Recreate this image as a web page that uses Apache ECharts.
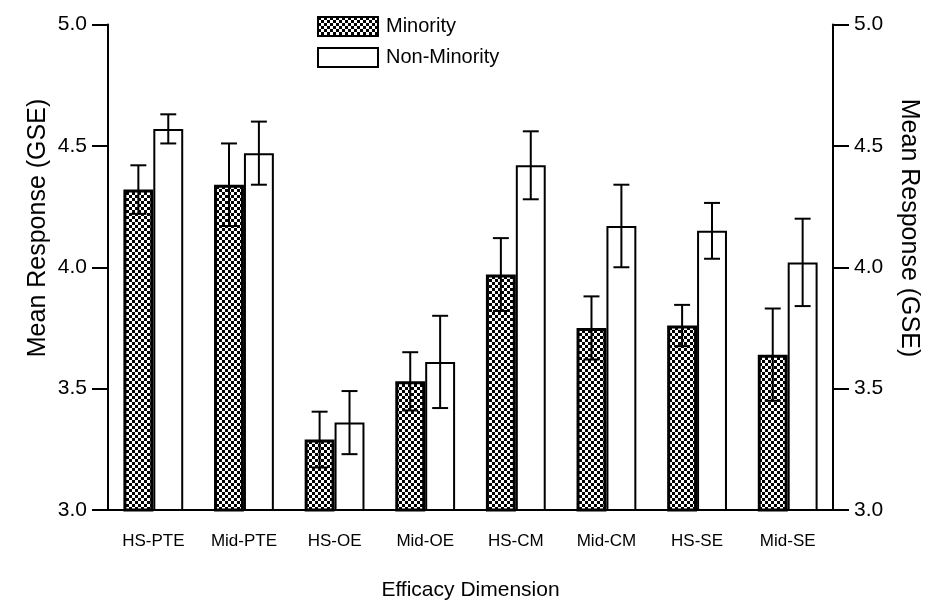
<!DOCTYPE html>
<html>
<head>
<meta charset="utf-8">
<title>Mean Response (GSE)</title>
<script src="https://cdn.jsdelivr.net/npm/echarts@6/dist/echarts.min.js"></script>
<style>
	html, body { margin: 0; padding: 0; background: #fff; }
	#container1 { width: 930px; height: 606px; }
</style>
</head>
<body>
<div id="container1"></div>
<script>
// 维度
var dims = ['HS-PTE', 'Mid-PTE', 'HS-OE', 'Mid-OE', 'HS-CM', 'Mid-CM', 'HS-SE', 'Mid-SE'];
// 均值
var minority = [4.32, 4.34, 3.29, 3.53, 3.97, 3.75, 3.76, 3.64];
var nonMinority = [4.57, 4.47, 3.36, 3.61, 4.42, 4.17, 4.15, 4.02];
// 标准误
var minorityErr = [0.10, 0.17, 0.115, 0.12, 0.15, 0.13, 0.085, 0.19];
var nonMinorityErr = [0.06, 0.13, 0.13, 0.19, 0.14, 0.17, 0.115, 0.18];
var yTicks = [3.0, 3.5, 4.0, 4.5, 5.0];

var font = "'Liberation Sans', Arial, sans-serif";

window.onload = function () {
	draw();
};

function checker() {
	var c = document.createElement('canvas');
	c.width = 6;
	c.height = 6;
	var ctx = c.getContext('2d');
	ctx.fillStyle = '#fff';
	ctx.fillRect(0, 0, 6, 6);
	ctx.fillStyle = '#000';
	ctx.fillRect(0, 0, 3, 3);
	ctx.fillRect(3, 3, 3, 3);
	return c;
}

function errRows(vals, errs) {
	var rows = [];
	for (var i = 0; i < vals.length; i++) {
		rows.push([i, vals[i] - errs[i], vals[i] + errs[i]]);
	}
	return rows;
}

// 误差线, side = -1 左柱, 1 右柱
function errRender(side) {
	return function (params, api) {
		var band = api.size([1, 0])[0];
		var dx = side * band * 0.165;
		var cap = band * 0.088;
		var lo = api.coord([api.value(0), api.value(1)]);
		var hi = api.coord([api.value(0), api.value(2)]);
		var x = lo[0] + dx;
		var st = { stroke: '#000', lineWidth: 2 };
		return {
			type: 'group',
			children: [
				{ type: 'line', shape: { x1: x, y1: hi[1], x2: x, y2: lo[1] }, style: st },
				{ type: 'line', shape: { x1: x - cap, y1: hi[1], x2: x + cap, y2: hi[1] }, style: st },
				{ type: 'line', shape: { x1: x - cap, y1: lo[1], x2: x + cap, y2: lo[1] }, style: st }
			]
		};
	};
}

function draw() {
	var dom = document.getElementById('container1');
	var myChart = echarts.init(dom);
	var option = null;

	var yAxisBase = {
		type: 'value',
		min: yTicks[0],
		max: yTicks[yTicks.length - 1],
		interval: 0.5,
		splitLine: { show: false },
		axisLine: { show: true, lineStyle: { color: '#000', width: 2 } },
		axisTick: { show: true, length: 16, lineStyle: { color: '#000', width: 2 } },
		axisLabel: {
			margin: 21,
			color: '#000',
			fontFamily: font,
			fontSize: 21,
			formatter: function (v) { return v.toFixed(1); }
		}
	};

	option = {
		backgroundColor: '#fff',
		animation: false,
		grid: {
			left: 108,
			right: 97,
			top: 24.5,
			bottom: 96
		},
		legend: {
			orient: 'vertical',
			left: 317,
			top: 16,
			padding: 0,
			itemWidth: 60,
			itemHeight: 19,
			itemGap: 10,
			icon: 'rect',
			data: ['Minority', 'Non-Minority'],
			textStyle: {
				color: '#000',
				fontFamily: font,
				fontSize: 20,
				lineHeight: 20,
				padding: [0, 0, 0, 3]
			}
		},
		xAxis: {
			type: 'category',
			data: dims,
			name: 'Efficacy Dimension',
			nameLocation: 'middle',
			nameGap: 70,
			nameTextStyle: { color: '#000', fontFamily: font, fontSize: 21 },
			axisLine: { lineStyle: { color: '#000', width: 2 } },
			axisTick: { alignWithLabel: true, length: 16, lineStyle: { color: '#000', width: 2 } },
			axisLabel: { interval: 0, margin: 23, color: '#000', fontFamily: font, fontSize: 17 }
		},
		yAxis: [
			echarts.util.merge({ position: 'left' }, yAxisBase, true),
			echarts.util.merge({ position: 'right' }, yAxisBase, true)
		],
		graphic: [
			{
				type: 'text',
				x: 26,
				y: 228,
				rotation: Math.PI / 2,
				style: {
					text: 'Mean Response (GSE)',
					fill: '#000',
					font: '25px ' + font,
					align: 'center',
					verticalAlign: 'top'
				}
			},
			{
				type: 'text',
				x: 921,
				y: 228,
				rotation: -Math.PI / 2,
				style: {
					text: 'Mean Response (GSE)',
					fill: '#000',
					font: '25px ' + font,
					align: 'center',
					verticalAlign: 'top'
				}
			}
		],
		series: [
			//柱1
			{
				name: 'Minority',
				type: 'bar',
				data: minority,
				barWidth: '33%',
				barGap: '0%',
				itemStyle: {
					color: { image: checker(), repeat: 'repeat' },
					borderColor: '#000',
					borderWidth: 3
				}
			},
			//柱2
			{
				name: 'Non-Minority',
				type: 'bar',
				data: nonMinority,
				barWidth: '33%',
				barGap: '0%',
				itemStyle: {
					color: '#fff',
					borderColor: '#000',
					borderWidth: 2
				}
			},
			{
				type: 'custom',
				name: 'errMin',
				data: errRows(minority, minorityErr),
				renderItem: errRender(-1),
				z: 5
			},
			{
				type: 'custom',
				name: 'errNon',
				data: errRows(nonMinority, nonMinorityErr),
				renderItem: errRender(1),
				z: 5
			}
		]
	};

	if (option && typeof option === 'object') {
		myChart.setOption(option, true);
	}
}
</script>
</body>
</html>
